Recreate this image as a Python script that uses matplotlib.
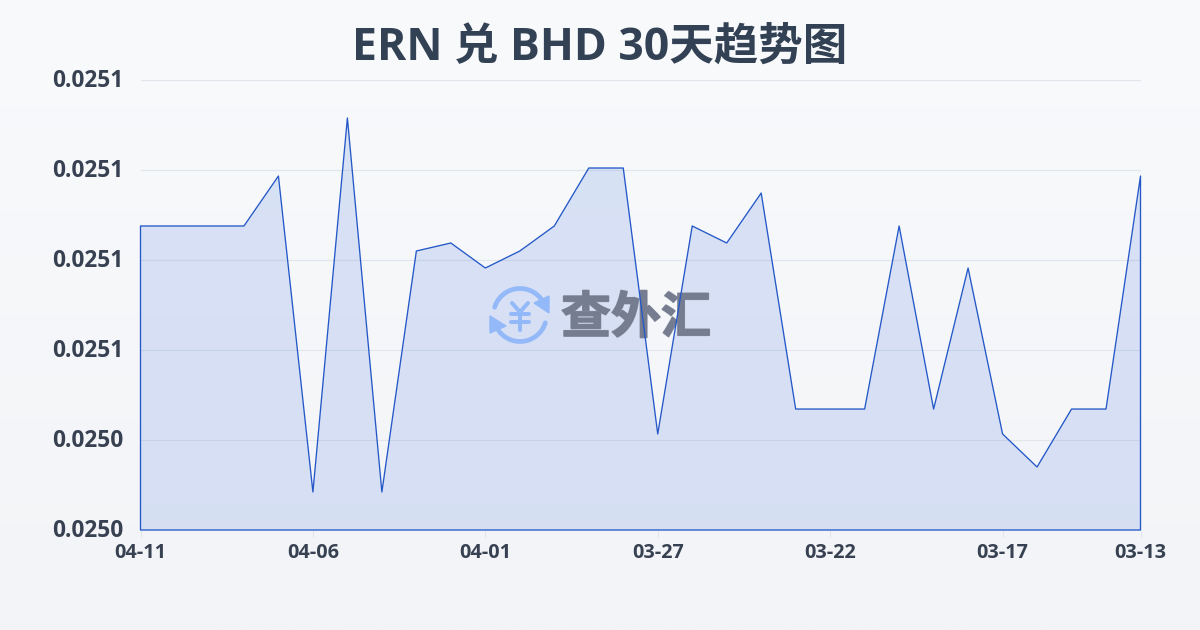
import numpy as np
import matplotlib
matplotlib.use('Agg')
import matplotlib.pyplot as plt
import matplotlib.patheffects as pe
from matplotlib.patches import Polygon
from matplotlib.transforms import ScaledTranslation

plt.rcParams['font.family'] = ['Open Sans', 'Noto Sans CJK SC', 'DejaVu Sans']

title = 'ERN 兑 BHD 30天趋势图'
watermark = '查外汇'
rates = [0.02506378, 0.02506378, 0.02506378, 0.02506378, 0.02506933, 0.02503422,
         0.02507578, 0.02503422, 0.02506100, 0.02506189, 0.02505911, 0.02506100,
         0.02506378, 0.02507022, 0.02507022, 0.02504067, 0.02506378, 0.02506189,
         0.02506744, 0.02504344, 0.02504344, 0.02504344, 0.02506378, 0.02504344,
         0.02505911, 0.02504067, 0.02503700, 0.02504344, 0.02504344, 0.02506933]
date_labels = ['04-11', '04-06', '04-01', '03-27', '03-22', '03-17', '03-13']
date_steps = [0, 5, 10, 15, 20, 25, 29]
y_ticks = [0.02503, 0.02504, 0.02505, 0.02506, 0.02507, 0.02508]
y_labels = ['0.0250', '0.0250', '0.0251', '0.0251', '0.0251', '0.0251']

text_color = '#374151'
line_color = '#2458c8'
logo_color = '#93b9f8'
mark_color = '#757c90'

fig = plt.figure(figsize=(12, 6.3), dpi=100)

# background gradient, drawn in pixel coords
px = fig.add_axes([0, 0, 1, 1], zorder=0)
px.set_xlim(0, 1200)
px.set_ylim(630, 0)
px.axis('off')
grad = np.linspace(0, 1, 256).reshape(-1, 1)
start = np.array([0xf8, 0xfa, 0xfc]) / 255
end = np.array([0xf3, 0xf4, 0xf7]) / 255
px.imshow(start + (end - start) * grad[..., None], extent=[0, 1200, 630, 0], aspect='auto')

ax = fig.add_axes([140.5 / 1200, 100 / 630, 1000 / 1200, 450 / 630], zorder=1)
ax.patch.set_alpha(0)
x = np.arange(len(rates))
ax.fill_between(x, y_ticks[0], rates, facecolor='#2c62d8', alpha=0.15, linewidth=0, zorder=1)
ax.fill_between(x, y_ticks[0], rates, facecolor='none', edgecolor=line_color, linewidth=0.95, zorder=4, clip_on=False)
ax.set_xlim(0, len(rates) - 1)
ax.set_ylim(y_ticks[0], y_ticks[-1])
ax.set_yticks(y_ticks, y_labels)
ax.set_xticks(date_steps, date_labels)
ax.grid(axis='y', color='#e2e6ec', linewidth=0.8, zorder=0)
ax.set_axisbelow(True)
for s in ax.spines.values():
    s.set_visible(False)
ax.tick_params(axis='y', length=0, pad=12, labelsize=16.3, labelcolor=text_color)
ax.tick_params(axis='x', length=5, width=0.8, color='#e2e6ec', pad=4, labelsize=14.3, labelcolor=text_color)
for lab in ax.get_xticklabels() + ax.get_yticklabels():
    lab.set_fontweight('bold')
for lab in ax.get_yticklabels():
    lab.set_transform(lab.get_transform() + ScaledTranslation(0, 2 / 100, fig.dpi_scale_trans))

# watermark logo, pixel coords
t = px.transData
def logo_line(xs, ys, lw):
    ax.plot(xs, ys, color=logo_color, lw=lw, solid_capstyle='round', transform=t, zorder=2, clip_on=False)

for a0, a1 in [(163, 36), (216, 343)]:
    ang = np.radians(np.linspace(a0, a1, 40))
    logo_line(520 + 26.5 * np.cos(ang), 315 - 26.5 * np.sin(ang), 3.4)
ax.add_patch(Polygon([(549, 313), (549, 296), (534, 303)], color=logo_color, transform=t, zorder=2))
ax.add_patch(Polygon([(490, 316), (490, 333), (506, 326)], color=logo_color, transform=t, zorder=2))
logo_line([512, 520, 528], [303, 312, 303], 2.9)
logo_line([511, 529], [314, 314], 2.9)
logo_line([511, 529], [322, 322], 2.9)
logo_line([520, 520], [313, 330], 2.9)
ax.text(636, 320, watermark, fontsize=36, fontweight='bold', color=mark_color, alpha=0.9,
        ha='center', va='center', transform=t, zorder=2,
        path_effects=[pe.withStroke(linewidth=1.2, foreground=mark_color)])

fig.text(0.5, 1 - 48 / 630, title, fontsize=32, fontweight='bold', color='#334155', ha='center', va='center')

fig.savefig('out.png', dpi=100)
